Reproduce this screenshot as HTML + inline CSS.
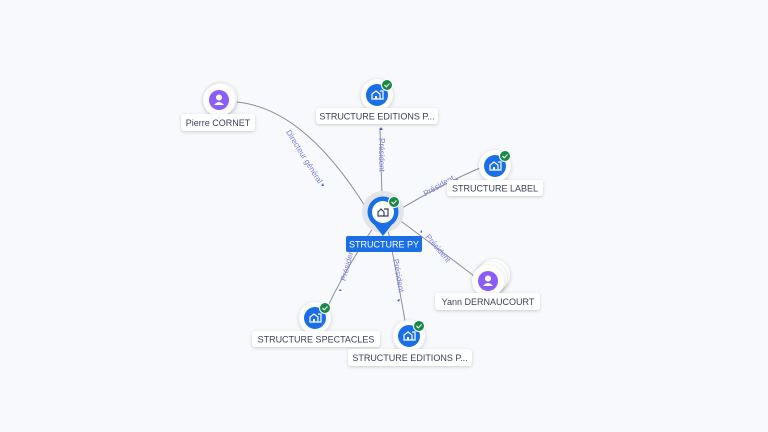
<!DOCTYPE html>
<html><head><meta charset="utf-8"><style>
html,body{margin:0;padding:0;background:#f8f9fc;}
svg{display:block;font-family:"Liberation Sans",sans-serif;}
.lbl{fill:#fff;filter:drop-shadow(0 1px 1.5px rgba(0,0,0,0.18));}
.nd{fill:#fff;filter:drop-shadow(0 1px 2px rgba(0,0,0,0.18));}
.t{font-size:9px;fill:#3a3f5c;text-anchor:middle;}
.e{fill:none;stroke:#8a8d9e;stroke-width:1;}
.el{font-size:8px;fill:#7b7fe0;text-anchor:middle;}
</style></head><body>
<svg width="768" height="432" viewBox="0 0 768 432" xmlns="http://www.w3.org/2000/svg">
<defs>
<g id="bld"><circle r="11" fill="#1a6fe6"/><path d="M-5 4 V-1 L-1 -4 L3 -1 V4 Z M3 -4 H6 V4 H3" fill="none" stroke="#fff" stroke-width="1.2"/><rect x="-2" y="1" width="2" height="3" fill="#fff"/></g>
<g id="chk"><circle r="5.5" fill="#178a48" stroke="#fff" stroke-width="1"/><path d="M-2.5 0 L-0.7 1.8 L2.5 -1.5" fill="none" stroke="#fff" stroke-width="1.1"/></g>
<g id="per"><circle r="10" fill="#8b5cf6"/><circle cy="-2.5" r="3" fill="#fff"/><path d="M-5 5 Q0 -1 5 5 Z" fill="#fff"/></g>
</defs>
<!-- edges -->
<path class="e" d="M236 102 Q305 108 368 211"/>
<path class="e" d="M380 128 L382 196"/>
<path class="e" d="M399 210 Q440 185 480 168"/>
<path class="e" d="M398 219 Q440 250 474 276"/>
<path class="e" d="M373 228 Q345 270 328 306"/>
<path class="e" d="M388 230 Q398 280 405 321"/>
<!-- edge labels -->
<text class="el" transform="translate(302,158) rotate(58)">Directeur général</text>
<text class="el" transform="translate(379,155) rotate(90)">Président</text>
<text class="el" transform="translate(440,188) rotate(-30)">Président</text>
<text class="el" transform="translate(436,250) rotate(50)">Président</text>
<text class="el" transform="translate(350,265) rotate(-75)">Président</text>
<text class="el" transform="translate(396,276) rotate(80)">Président</text>
<g fill="#5560e0"><path d="M321 186 l2 -3 l1 3z"/><path d="M379 130 l2 -3 l2 3z"/><path d="M455 180 l3 -1 l-1 3z"/><path d="M420 232 l2 -2 l0 3z"/><path d="M340 289 l2 2 l-3 0z"/><path d="M397 300 l2 2 l1 -3z"/></g>
<!-- center -->
<circle cx="383" cy="212" r="21" fill="#e2e4ea"/>
<path d="M369 218 Q383 236 383 236 Q383 236 397 218 Z" fill="#1a6fe6"/>
<circle cx="383" cy="212" r="15.5" fill="#1a6fe6"/>
<circle cx="383" cy="212" r="11" fill="#fff"/>
<path d="M378 216 V212 L381 209 L384 212 V216 Z M384 209 H388 V216 H384" fill="none" stroke="#3a3f5c" stroke-width="1.2"/>
<use href="#chk" x="394" y="202"/>
<rect x="346" y="236" width="76" height="16" rx="2" fill="#1a6fe6"/>
<text x="384" y="247.5" font-size="9" fill="#fff" text-anchor="middle">STRUCTURE PY</text>
<!-- Pierre -->
<circle class="nd" cx="221" cy="99" r="16"/><circle class="nd" cx="219" cy="100" r="16"/>
<use href="#per" x="219" y="100"/>
<rect class="lbl" x="181" y="114" width="74" height="17" rx="3"/><text class="t" x="218" y="126">Pierre CORNET</text>
<!-- Editions top -->
<circle class="nd" cx="377" cy="95" r="16"/><use href="#bld" x="377" y="95"/><use href="#chk" x="387" y="85"/>
<rect class="lbl" x="316" y="108" width="122" height="16" rx="3"/><text class="t" x="377" y="119.5">STRUCTURE EDITIONS P...</text>
<!-- Label -->
<circle class="nd" cx="495" cy="166" r="16"/><use href="#bld" x="495" y="166"/><use href="#chk" x="505" y="156"/>
<rect class="lbl" x="447" y="180" width="96" height="16" rx="3"/><text class="t" x="495" y="191.5">STRUCTURE LABEL</text>
<!-- Yann -->
<circle class="nd" cx="494" cy="275" r="16"/><circle class="nd" cx="491" cy="278" r="16"/><circle class="nd" cx="488" cy="281" r="16"/>
<use href="#per" x="488" y="281"/>
<rect class="lbl" x="435" y="293" width="105" height="17" rx="3"/><text class="t" x="488" y="305">Yann DERNAUCOURT</text>
<!-- Spectacles -->
<circle class="nd" cx="315" cy="318" r="16"/><use href="#bld" x="315" y="318"/><use href="#chk" x="325" y="308"/>
<rect class="lbl" x="252" y="331" width="128" height="16" rx="3"/><text class="t" x="316" y="342.5">STRUCTURE SPECTACLES</text>
<!-- Editions bottom -->
<circle class="nd" cx="409" cy="336" r="16"/><use href="#bld" x="409" y="336"/><use href="#chk" x="419" y="326"/>
<rect class="lbl" x="348" y="349" width="124" height="17" rx="3"/><text class="t" x="410" y="361">STRUCTURE EDITIONS P...</text>
</svg>
</body></html>
